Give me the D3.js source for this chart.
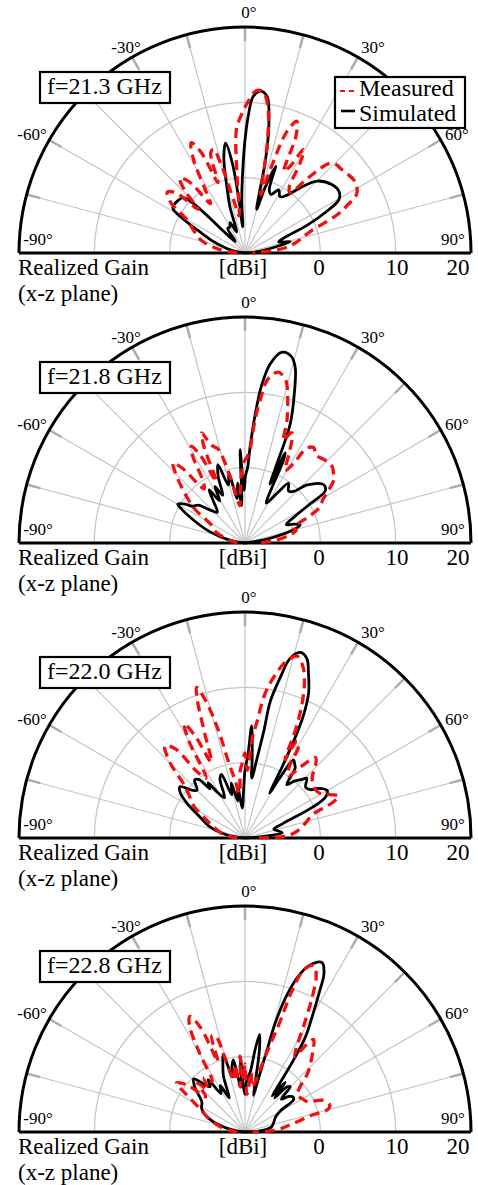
<!DOCTYPE html>
<html lang="en">
<head>
<meta charset="UTF-8" />
<title>Realized Gain x-z plane</title>
<script src="https://cdn.jsdelivr.net/npm/d3@7"></script>
<style>
  body { margin: 0; background: #fff; }
  text { font-family: "Liberation Serif", "Times New Roman", serif; fill: #000; }
</style>
</head>
<body>
<svg id="chart" width="478" height="1185"></svg>
<script>
// ---- data ----
var freqLabels = ["f=21.3 GHz", "f=21.8 GHz", "f=22.0 GHz", "f=22.8 GHz"];
var angleTicks = [-90, -60, -30, 0, 30, 60, 90];
var gainTicks = [0, 10, 20];
var gridGains = [0, 10];
var spokeAngles = [-75, -60, -45, -30, -15, 0, 15, 30, 45, 60, 75];
var legendNames = ["Measured", "Simulated"];
var axisTitle = ["Realized Gain", "(x-z plane)"];

// [angle deg, gain dBi]
var sim213 = [[-90,-10],[-82,-9],[-76,-7.5],[-70,-5.5],[-65,-3.4],[-61,-0.5],[-58,1.3],[-52,1.3],[-48,1.0],[-46,-1],[-44.5,-6],[-40,-8],[-35,-6],[-30,-6],[-26,-5.5],[-22,-7],[-18,-3.5],[-15,-0.5],[-12.5,3],[-10,4.8],[-8,2],[-6.5,-3],[-5,-6.5],[-3.5,-3],[-2,0],[0,5],[1.5,8.5],[3,10.8],[5.5,11.6],[8,11],[10.5,7.4],[12.5,2.5],[13.5,-2],[15,-4],[17,-1],[19.5,2.2],[21,-1],[24,-1.5],[28,-0.5],[32,-1.2],[36,-0.5],[40,1.2],[45,3.5],[52,4.7],[57,4.9],[60.5,4.3],[63,2.2],[66,-1],[69,-4.5],[72,-5.3],[76,-3.8],[79,-6],[84,-8.5],[90,-10]];
var meas213 = [[-90,-9],[-82,-6.5],[-74,-4],[-66,-2.5],[-60,-1],[-56,1.8],[-52,3.1],[-49,2.2],[-47,-1.5],[-44,1.5],[-41,3.2],[-38,2],[-35,-2],[-32,0],[-29,4],[-26,6.3],[-23.5,4.5],[-21,0],[-19,4],[-17,4.4],[-15,2],[-12,-3],[-9,-5],[-6,0],[-4,6.4],[-2,8],[1,10],[4,11.6],[6.5,11.5],[9,9.5],[11,6],[13,1],[15,-2],[17,2],[19,7],[21.5,8.8],[23.5,7],[25.5,2],[27.5,3],[29.5,5.8],[31.5,4],[34,0.5],[37,0],[40,3],[44,6.6],[50,7],[57,7.4],[62,6.8],[65,5],[67.5,3.2],[72,-1],[78,-3],[83,-4.8],[87,-8],[90,-9]];

var sim218 = [[-90,-10],[-80,-8],[-72,-5],[-66,-2.5],[-62,-0.5],[-60,0.3],[-57,-0.5],[-55,-1.5],[-51,-2],[-47,-3.5],[-42,-4.5],[-37,-3],[-34,-1.5],[-31,-3.5],[-28,-1.5],[-25,-3],[-22,-0.5],[-19,1],[-16,-2],[-13,-0.5],[-10,-4],[-7,-2],[-5,-5],[-3,2.4],[-1,-3],[0.5,-1],[2,0],[3,2.7],[4.5,7],[6,11],[8,14],[11,15.8],[14,15.5],[16,14.2],[18,11.3],[20.8,6.9],[22,1],[23,-1.5],[24,3.1],[25,2],[26,-2],[28,-4],[33,-2],[36,-0.2],[40,-1],[43.3,-0.6],[47,1.3],[53.5,3.0],[57,2.7],[59,0],[62,-2.5],[66,-4],[69,-3],[72,-2.3],[75,-3.5],[80,-7],[90,-10]];
var meas218 = [[-90,-9],[-80,-8],[-70,-6],[-62,-5],[-56,-2],[-51.5,-0.1],[-47,2],[-44,3.5],[-42,4.3],[-40,3],[-37,-1],[-34,0],[-31,3.5],[-29,4.7],[-27,3],[-25,-1],[-23,4],[-21.5,5.7],[-20,4.5],[-18.2,3.5],[-16,3],[-14,1],[-11,-3],[-8,-5],[-5,-3],[-2,0],[0,1],[1.5,1.5],[3,2.4],[4.5,6],[6,9],[8,12],[11,13.1],[14,12.3],[16,10.5],[18.9,7.2],[20.6,4.5],[22,5.5],[23,5.9],[24.5,5],[26.5,3],[29,1],[31.5,2.5],[33,5],[35.8,5.6],[39,5],[44,5.3],[48.6,5.4],[51.5,5],[54.5,4.5],[58,3],[61,1.8],[64.2,1.1],[67,-0.5],[70,-2.5],[72.6,-3.3],[76,-3],[80,-4],[85,-6],[90,-8]];

var sim220 = [[-90,-10],[-80,-7.5],[-72,-5],[-65,-3.4],[-59,-1],[-55,0.5],[-51.7,1.0],[-48,-0.5],[-45,-1],[-41,0.2],[-38,-0.2],[-35.5,-2],[-33.8,-1.2],[-31,-3],[-27,-4],[-23,-1.5],[-20.3,-1],[-17,-4],[-14,-2.5],[-11,-5],[-8,-3],[-5,-6],[-2,-4],[0,-1],[2,1],[3.4,4.9],[5,1],[6.5,-2],[8.5,0.5],[10,4.5],[10.5,8.5],[12.5,12],[14,14.5],[16.6,15.7],[19,15.2],[21,13.5],[23.7,11],[25.5,8],[26.5,5],[27.5,1],[28.8,-3.2],[30,-1],[31.8,2.2],[34,1.8],[35.7,1.4],[38,-1],[41,0],[44,0.8],[46,1.4],[50,0.5],[53.6,0.8],[56,1.8],[60,2.6],[63,2.0],[65.4,0],[69,-4.5],[73,-6],[78,-5.5],[82,-5],[86,-8],[90,-10]];
var meas220 = [[-90,-9],[-80,-7],[-70,-5.5],[-65,-4.4],[-58,-2],[-52,-0.5],[-48.4,1.0],[-45,4],[-41,6.2],[-38,5],[-36,1],[-33,-0.5],[-30,5],[-28,7.2],[-26,5],[-24,1],[-21,5],[-19,9.5],[-17.8,11],[-16,9],[-14,5],[-12,0],[-10,-2],[-7,-4],[-4,-1],[-2,0],[0,1.3],[2,-1],[4,3],[5.8,5.4],[8,9.5],[10.5,12],[13,14],[16,15.1],[18.7,14],[21,12],[23,9.4],[25,6],[27,1.7],[28.2,4.6],[30.3,4.1],[32,1],[35,0],[38,2],[41.3,4.2],[44,3.5],[48,2],[53,1.4],[58.6,1.5],[63,2.7],[66,3.6],[68,2.5],[71,-0.6],[75,-1.5],[80,-2.5],[84.5,-3.5],[88,-5],[90,-9]];

var sim228 = [[-90,-10],[-80,-8],[-70,-5],[-62,-3.5],[-55,-3],[-48,-1],[-44,-0.2],[-41,-1.5],[-37.7,-2.4],[-35,-1.5],[-32,-4],[-28,-3],[-25,-5],[-21,-2],[-18,-0.5],[-15.7,0.7],[-13,-2.5],[-11,-1],[-9.2,-0.3],[-7,-3],[-5,-4],[-3.5,-0.2],[-2,-4],[0,-5],[2,-3],[5,-2],[7,1],[8.5,3.1],[10,1],[11.5,-3],[13,-5],[14,-3],[15,1],[15.5,5],[17,9],[19,12],[21,13.6],[24.4,14.7],[26.5,13.5],[28,11],[30,8],[32.4,5],[34,1.5],[35.5,-2],[37,-4],[39,-1.5],[41,-4],[43,-1.8],[45,-1.5],[48,-3.5],[51,-2.5],[54,-2.1],[56.5,-2.3],[59,-4.5],[64,-5.5],[72,-6],[80,-6.5],[86,-8],[90,-10]];
var meas228 = [[-90,-9],[-80,-7],[-70,-5],[-62,-3],[-57,-0.5],[-54.5,1.2],[-51,0],[-48,-3],[-44,-1],[-41,-2.5],[-37,-1],[-33,-2],[-30,2],[-27.5,6],[-25.5,7],[-23,5],[-21,0],[-19,3.5],[-17,3.3],[-15,0],[-12,-3],[-9,-1],[-6,-4],[-3.8,0.1],[-1.5,-3],[0,-1],[3,-5],[6,-2],[9,-4],[12,-3],[14,-1],[16,2],[17.5,5],[18.5,10],[20,13],[22.5,13.9],[24.5,12.8],[26.5,10],[29,6],[31.5,3],[33.5,2],[35,4],[36.6,5.3],[40,4],[44,2.5],[47.3,1.2],[50.5,-0.5],[55,-1.5],[60,-1.2],[64,-0.8],[68,1.2],[72,1.8],[74.5,1.5],[76,-1],[80,-3.5],[84,-5],[88,-7],[90,-9]];

var simSeries = [sim213, sim218, sim220, sim228];
var measSeries = [meas213, meas218, meas220, meas228];

// ---- layout ----
var svg = d3.select("#chart");
var cx = 245, R = 226;
var centers = [253, 543, 838, 1132];
var rad = Math.PI / 180;
var r = d3.scaleLinear().domain([-10, 20]).range([0, R]).clamp(true);

// angle label placement (offset from the centre)
var angleLabelPos = {
  "-90": [-207, -8], "-60": [-213, -113], "-30": [-119, -200], "0": [4, -235],
  "30": [128, -200], "60": [212, -113], "90": [208, -8]
};
var gainLabelX = { 0: 319, 10: 397, 20: 458 };

var line = d3.lineRadial()
  .angle(function(d) { return d[0] * rad; })
  .radius(function(d) { return r(d[1]); })
  .curve(d3.curveCatmullRom.alpha(0.5));

var halfArc = d3.arc().startAngle(-Math.PI / 2).endAngle(Math.PI / 2);

centers.forEach(function(cy, i) {
  var g = svg.append("g").attr("transform", "translate(" + cx + "," + cy + ")");

  // grid circles
  g.selectAll(".ring").data(gridGains).enter().append("path")
    .attr("d", function(v) { return halfArc({ innerRadius: r(v), outerRadius: r(v) }); })
    .attr("fill", "none").attr("stroke", "#c4c4c4").attr("stroke-width", 1.2);

  // spokes
  g.selectAll(".spoke").data(spokeAngles).enter().append("line")
    .attr("x1", 0).attr("y1", 0)
    .attr("x2", function(a) { return R * Math.sin(a * rad); })
    .attr("y2", function(a) { return -R * Math.cos(a * rad); })
    .attr("stroke", "#c4c4c4").attr("stroke-width", 1.2);
  g.selectAll(".tick").data(spokeAngles).enter().append("line")
    .attr("x1", function(a) { return (R - 14) * Math.sin(a * rad); })
    .attr("y1", function(a) { return -(R - 14) * Math.cos(a * rad); })
    .attr("x2", function(a) { return R * Math.sin(a * rad); })
    .attr("y2", function(a) { return -R * Math.cos(a * rad); })
    .attr("stroke", "#acacac").attr("stroke-width", 2.5);

  // outer frame
  g.append("path").attr("d", halfArc({ innerRadius: R, outerRadius: R }))
    .attr("fill", "none").attr("stroke", "#000").attr("stroke-width", 3);
  g.append("line").attr("x1", -R).attr("x2", R).attr("y1", 0).attr("y2", 0)
    .attr("stroke", "#000").attr("stroke-width", 3);

  // patterns
  g.append("path").datum(simSeries[i]).attr("d", line)
    .attr("fill", "none").attr("stroke", "#000").attr("stroke-width", 2.8)
    .attr("stroke-linejoin", "round");
  g.append("path").datum(measSeries[i]).attr("d", line)
    .attr("fill", "none").attr("stroke", "#f01010").attr("stroke-width", 3.3)
    .attr("stroke-dasharray", "10,6");

  // angle labels
  g.selectAll(".alab").data(angleTicks).enter().append("text")
    .attr("x", function(a) { return angleLabelPos[a][0]; })
    .attr("y", function(a) { return angleLabelPos[a][1]; })
    .attr("text-anchor", "middle").attr("font-size", 17)
    .text(function(a) { return a + "\u00b0"; });

  // bottom labels
  g.selectAll(".ttl").data(axisTitle).enter().append("text")
    .attr("x", 18 - cx).attr("y", function(d, k) { return 22 + k * 26; })
    .attr("font-size", 23)
    .text(function(d) { return d; });
  g.append("text").attr("x", -2).attr("y", 22).attr("font-size", 23)
    .attr("text-anchor", "middle").text("[dBi]");
  g.selectAll(".glab").data(gainTicks).enter().append("text")
    .attr("x", function(v) { return gainLabelX[v] - cx; }).attr("y", 22)
    .attr("font-size", 23).attr("text-anchor", "middle")
    .text(function(v) { return v; });

  // frequency box
  g.append("rect").attr("x", 40 - cx).attr("y", -181).attr("width", 130).attr("height", 31)
    .attr("fill", "#fff").attr("stroke", "#000").attr("stroke-width", 2.2);
  g.append("text").attr("x", 47 - cx).attr("y", -159).attr("font-size", 24).text(freqLabels[i]);

  // legend in the first panel only
  if (i === 0) {
    var lg = g.append("g").attr("transform", "translate(" + (335 - cx) + "," + (77 - cy) + ")");
    lg.append("rect").attr("width", 130).attr("height", 51)
      .attr("fill", "#fff").attr("stroke", "#000").attr("stroke-width", 2.2);
    lg.append("line").attr("x1", 5).attr("x2", 20).attr("y1", 14).attr("y2", 14)
      .attr("stroke", "#f01010").attr("stroke-width", 2.2).attr("stroke-dasharray", "5,4");
    lg.append("line").attr("x1", 6).attr("x2", 20).attr("y1", 34).attr("y2", 34)
      .attr("stroke", "#000").attr("stroke-width", 2.6);
    lg.selectAll(".ltxt").data(legendNames).enter().append("text")
      .attr("x", 24).attr("y", function(d, k) { return 19 + k * 25; })
      .attr("font-size", 24).text(function(d) { return d; });
  }
});
</script>
</body>
</html>
